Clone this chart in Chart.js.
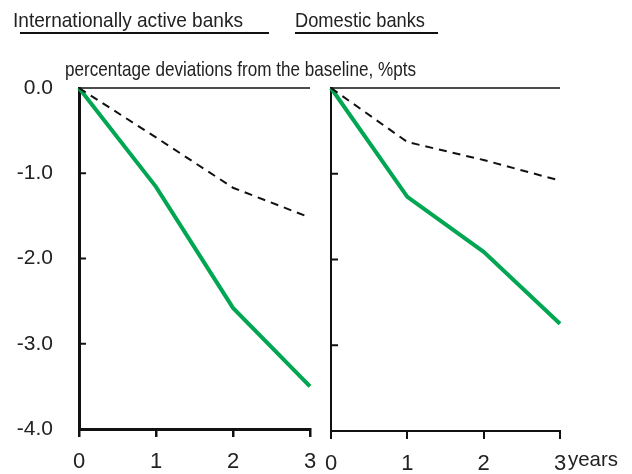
<!DOCTYPE html>
<html>
<head>
<meta charset="utf-8">
<script src="https://cdn.jsdelivr.net/npm/chart.js@4.4.1/dist/chart.umd.min.js"></script>
<style>
  html, body { margin:0; padding:0; background:#fff; }
  #wrap { position:relative; width:632px; height:474px; overflow:hidden; background:#fff; }
  canvas { position:absolute; top:0; }
  .txt { position:absolute; white-space:nowrap; color:#222; font-family:"Liberation Sans",Arial,sans-serif; line-height:20px; transform-origin:0 0; }
  .uline { position:absolute; height:0; border-top:2px solid #111; }
</style>
</head>
<body>
<div id="wrap">
  <canvas id="c1" width="322" height="474" style="left:0;width:322px;height:474px"></canvas>
  <canvas id="c2" width="310" height="474" style="left:322px;width:310px;height:474px"></canvas>
  <div class="txt fit" data-w="230" style="left:13px;top:10px;font-size:21px">Internationally active banks</div>
  <div class="uline" style="left:20px;top:32px;width:249px"></div>
  <div class="txt fit" data-w="130" style="left:295px;top:10px;font-size:21px">Domestic banks</div>
  <div class="uline" style="left:295px;top:32px;width:143px"></div>
  <div class="txt fit" data-w="351" style="left:65px;top:59px;font-size:21px">percentage deviations from the baseline, %pts</div>
  <div class="txt fit" data-w="50" style="left:568px;top:449px;font-size:21px">years</div>
</div>
<script>
// ---- data ----
const years = [0, 1, 2, 3];
const yTicks = [0, -1, -2, -3, -4];
const intlGreen  = [0, -1.16, -2.58, -3.50];
const intlDashed = [0, -0.58, -1.17, -1.52];
const domGreen   = [0, -1.27, -1.91, -2.75];
const domDashed  = [0, -0.63, -0.84, -1.08];

const GREEN = '#00A651';
const FONT = "'Liberation Sans', Arial, sans-serif";

document.querySelectorAll('.fit').forEach(el => {
  const w = el.getBoundingClientRect().width;
  const target = parseFloat(el.dataset.w);
  if (w > 0) el.style.transform = 'scaleX(' + (target / w) + ')';
});

const pts = arr => years.map((x, i) => ({ x: x, y: arr[i] }));

const axisDecor = {
  id: 'axisDecor',
  afterDatasetsDraw(chart) {
    const ctx = chart.ctx, ys = chart.scales.y, a = chart.chartArea;
    ctx.save();
    ctx.strokeStyle = '#111';
    ctx.lineWidth = 1.5;
    const y0 = ys.getPixelForValue(0);
    ctx.beginPath(); ctx.moveTo(a.left, y0); ctx.lineTo(a.right, y0); ctx.stroke();
    ctx.lineWidth = 2;
    [-1, -2, -3].forEach(v => {
      const py = ys.getPixelForValue(v);
      ctx.beginPath(); ctx.moveTo(a.left, py); ctx.lineTo(a.left + 7, py); ctx.stroke();
    });
    ctx.restore();
  }
};

function makeChart(id, green, dashed, cfg) {
  return new Chart(document.getElementById(id), {
    type: 'line',
    data: {
      datasets: [
        { data: pts(dashed), borderColor: '#111', borderWidth: 2, borderDash: [8, 6], pointRadius: 0, tension: 0, clip: false },
        { data: pts(green), borderColor: GREEN, borderWidth: 4, pointRadius: 0, tension: 0, clip: false }
      ]
    },
    options: {
      responsive: false,
      animation: false,
      devicePixelRatio: 1,
      layout: { padding: { top: 88, right: cfg.padRight, left: 0, bottom: 0 } },
      plugins: { legend: { display: false }, tooltip: { enabled: false } },
      scales: {
        x: {
          type: 'linear', min: 0, max: 3,
          afterFit: s => { s.height = cfg.xHeight; s.paddingLeft = 0; s.paddingRight = 0; },
          afterBuildTicks: s => { s.ticks = years.map(v => ({ value: v })); },
          ticks: { color: '#222', font: { family: FONT, size: 22 }, padding: 12, maxRotation: 0, callback: v => String(v) },
          grid: { display: true, drawOnChartArea: false, drawTicks: true, tickLength: 8, color: '#111', lineWidth: cfg.xTickW },
          border: { display: true, color: '#111', width: cfg.xBorder }
        },
        y: {
          type: 'linear', min: -4, max: 0,
          afterFit: s => { s.width = cfg.yWidth; s.paddingTop = 0; s.paddingBottom = 0; },
          afterBuildTicks: s => { s.ticks = yTicks.map(v => ({ value: v })); },
          ticks: { display: cfg.yLabels, color: '#222', font: { family: FONT, size: 21 }, padding: 26, callback: v => v.toFixed(1) },
          grid: { display: true, drawOnChartArea: false, drawTicks: false },
          border: { display: true, color: '#111', width: cfg.yBorder }
        }
      }
    },
    plugins: [axisDecor]
  });
}

makeChart('c1', intlGreen, intlDashed, { padRight: 12, xHeight: 45, yWidth: 79, yLabels: true, xBorder: 3, yBorder: 3, xTickW: 2.5 });
makeChart('c2', domGreen, domDashed, { padRight: 72, xHeight: 43, yWidth: 9, yLabels: false, xBorder: 2, yBorder: 2, xTickW: 2 });
</script>
</body>
</html>
